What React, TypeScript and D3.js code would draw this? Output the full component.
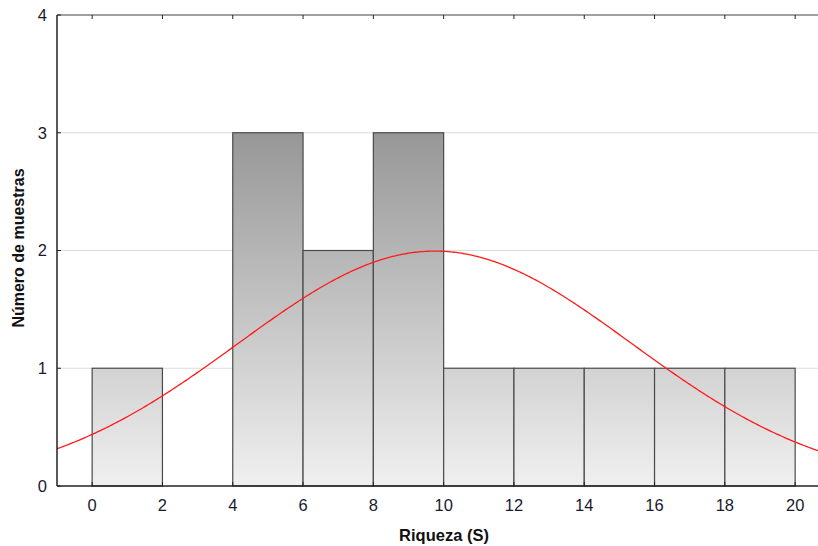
import React from "react";
import * as d3 from "d3";

const binStarts = [0, 2, 4, 6, 8, 10, 12, 14, 16, 18];
const binWidth = 2;
const counts = [1, 0, 3, 2, 3, 1, 1, 1, 1, 1];
const xTicks = [0, 2, 4, 6, 8, 10, 12, 14, 16, 18, 20];
const yTicks = [0, 1, 2, 3, 4];
const fitMean = 9.75;
const fitSd = 5.6;

const W = 818, H = 546;
const M = { left: 57, right: 818, top: 15, bottom: 486 };

export default function App() {
  const x = d3.scaleLinear().domain([-1, 20.65]).range([M.left, M.right]);
  const y = d3.scaleLinear().domain([0, 4]).range([M.bottom, M.top]);
  const n = d3.sum(counts);
  const pdf = (v: number) =>
    (n * binWidth) / (fitSd * Math.sqrt(2 * Math.PI)) * Math.exp(-0.5 * ((v - fitMean) / fitSd) ** 2);
  const pts = d3.range(-1, 20.66, 0.05).map((v) => [v, pdf(v)] as [number, number]);
  const line = d3.line<[number, number]>().x((d) => x(d[0])).y((d) => y(d[1]));
  const font = "'Liberation Sans', Arial, sans-serif";
  const tickColor = "#1a1a2e";
  return (
    <svg width={W} height={H} style={{ position: "absolute", left: 0, top: 0 }}>
      <defs>
        <linearGradient id="barg" gradientUnits="userSpaceOnUse" x1="0" y1={y(3)} x2="0" y2={y(0)}>
          <stop offset="0" stopColor="#979797" />
          <stop offset="1" stopColor="#f0f0f0" />
        </linearGradient>
        <clipPath id="clip">
          <rect x={M.left} y={M.top} width={M.right - M.left} height={M.bottom - M.top} />
        </clipPath>
      </defs>
      {yTicks.filter((t) => t > 0 && t < 4).map((t) => (
        <line key={t} x1={M.left} x2={M.right} y1={y(t)} y2={y(t)} stroke="#dcdcdc" strokeWidth={1} />
      ))}
      {binStarts.map((b, i) =>
        counts[i] > 0 ? (
          <rect key={b} x={x(b)} y={y(counts[i])} width={x(b + binWidth) - x(b)} height={y(0) - y(counts[i])}
            fill="url(#barg)" stroke="#4a4a4a" strokeWidth={1.2} />
        ) : null
      )}
      <path d={line(pts) || ""} fill="none" stroke="#ff1a1a" strokeWidth={1.3} clipPath="url(#clip)" />
      <line x1={M.left} x2={M.left} y1={M.top} y2={M.bottom} stroke="#222" strokeWidth={1.5} />
      <line x1={M.left} x2={M.right} y1={M.top} y2={M.top} stroke="#444" strokeWidth={1.2} />
      <line x1={M.left} x2={M.right} y1={M.bottom} y2={M.bottom} stroke="#222" strokeWidth={1.5} />
      {yTicks.map((t) => (
        <g key={t}>
          <line x1={M.left} x2={M.left + 4} y1={y(t)} y2={y(t)} stroke="#222" />
          <text x={47} y={y(t)} dy="0.35em" textAnchor="end" fontFamily={font} fontSize={16.5} fill={tickColor}>{t}</text>
        </g>
      ))}
      {xTicks.map((t) => (
        <g key={t}>
          <line x1={x(t)} x2={x(t)} y1={M.top} y2={M.top + 4} stroke="#222" />
          <line x1={x(t)} x2={x(t)} y1={M.bottom} y2={M.bottom - 4} stroke="#222" />
          <text x={x(t)} y={505} dy="0.35em" textAnchor="middle" fontFamily={font} fontSize={16.5} fill={tickColor}>{t}</text>
        </g>
      ))}
      <text x={444} y={535} dy="0.35em" textAnchor="middle" fontFamily={font} fontSize={16.5} fontWeight="bold" fill="#111">Riqueza (S)</text>
      <text transform={`translate(18,248) rotate(-90)`} dy="0.35em" textAnchor="middle" fontFamily={font} fontSize={16} fontWeight="bold" fill="#111">Número de muestras</text>
    </svg>
  );
}
